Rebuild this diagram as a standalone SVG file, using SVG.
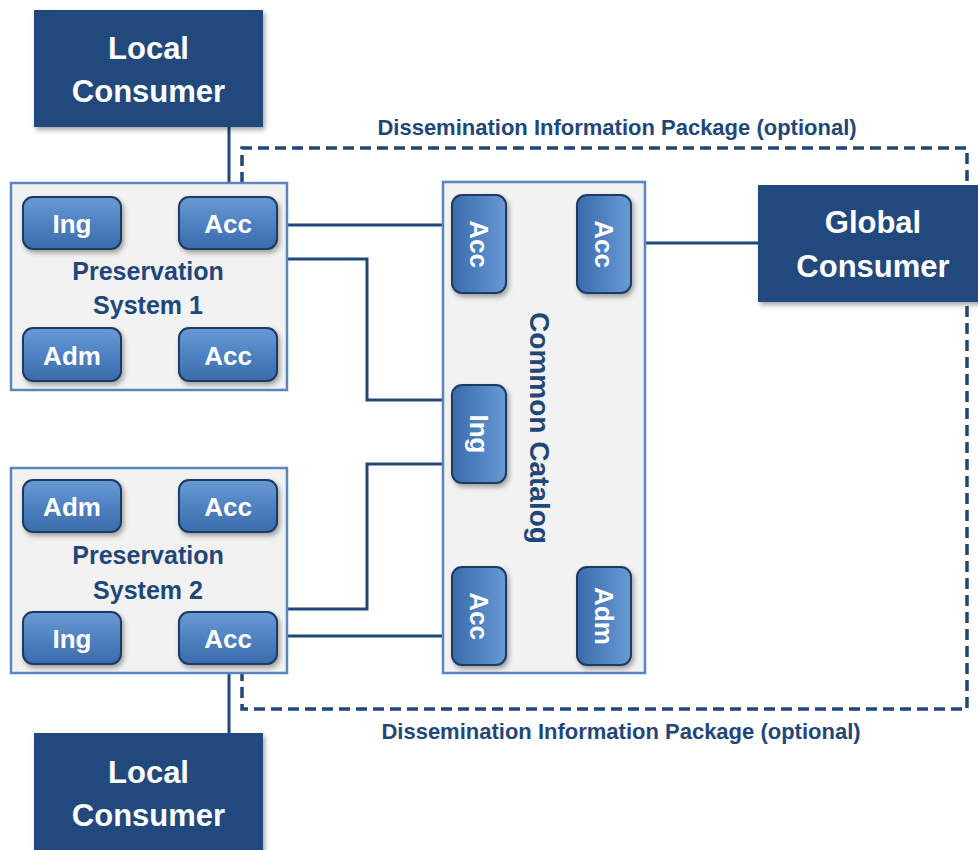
<svg xmlns="http://www.w3.org/2000/svg" width="978" height="850" viewBox="0 0 978 850">
<defs>
  <linearGradient id="btn" x1="0" y1="0" x2="0" y2="1">
    <stop offset="0" stop-color="#6a9ad6"/>
    <stop offset="0.5" stop-color="#4f82c2"/>
    <stop offset="1" stop-color="#3b6bab"/>
  </linearGradient>
  <linearGradient id="btnv" x1="0" y1="0" x2="1" y2="0">
    <stop offset="0" stop-color="#3b6bab"/>
    <stop offset="0.5" stop-color="#4f82c2"/>
    <stop offset="1" stop-color="#6a9ad6"/>
  </linearGradient>
  <filter id="sh" x="-20%" y="-20%" width="150%" height="150%">
    <feDropShadow dx="2" dy="3" stdDeviation="2.5" flood-color="#000" flood-opacity="0.35"/>
  </filter>
</defs>
<style>
  .dark { fill: #214a7d; filter: url(#sh); }
  .panel { fill: #f2f2f2; stroke: #5a86c0; stroke-width: 2.5; }
  .btn { fill: url(#btn); stroke: #1d3a60; stroke-width: 2; filter: url(#sh); }
  .btnv { fill: url(#btnv); stroke: #1d3a60; stroke-width: 2; filter: url(#sh); }
  .wt { font-family: "Liberation Sans", Arial, sans-serif; font-weight: bold; fill: #ffffff; text-anchor: middle; }
  .big { font-size: 31px; }
  .bt { font-size: 26px; }
  .bl { font-family: "Liberation Sans", Arial, sans-serif; font-weight: bold; fill: #1f477a; text-anchor: middle; }
  .line { fill: none; stroke: #1f477a; stroke-width: 3; }
  .dash { fill: none; stroke: #1f477a; stroke-width: 3.5; stroke-dasharray: 11 6; }
</style>

<g id="connectors">
  <path class="dash" d="M242,183 V148 H967 V709 H242 V673"/>
  <line class="line" x1="229" y1="127" x2="229" y2="183"/>
  <line class="line" x1="229" y1="673" x2="229" y2="733"/>
  <line class="line" x1="287" y1="225" x2="443" y2="225"/>
  <path class="line" d="M287,259 H367 V400 H443"/>
  <path class="line" d="M287,609 H367 V464 H443"/>
  <line class="line" x1="287" y1="636" x2="443" y2="636"/>
  <line class="line" x1="645" y1="243" x2="758" y2="243"/>
</g>

<g id="label-top">
  <text class="bl" x="617" y="135" font-size="22">Dissemination Information Package (optional)</text>
</g>
<g id="label-bottom">
  <text class="bl" x="621" y="739" font-size="22">Dissemination Information Package (optional)</text>
</g>

<g id="local-consumer-top">
  <rect class="dark" x="34" y="10" width="229" height="117"/>
  <text class="wt big" x="148.5" y="59">Local</text>
  <text class="wt big" x="148.5" y="102">Consumer</text>
</g>

<g id="local-consumer-bottom">
  <rect class="dark" x="34" y="733" width="229" height="125"/>
  <text class="wt big" x="148.5" y="783">Local</text>
  <text class="wt big" x="148.5" y="826">Consumer</text>
</g>

<g id="global-consumer">
  <rect class="dark" x="758" y="185" width="225" height="117"/>
  <text class="wt big" x="873" y="233">Global</text>
  <text class="wt big" x="873" y="277">Consumer</text>
</g>

<g id="preservation-system-1">
  <rect class="panel" x="11" y="183" width="276" height="207"/>
  <text class="bl" x="148" y="280" font-size="25">Preservation</text>
  <text class="bl" x="148" y="314" font-size="25">System 1</text>
  <g id="ps1-ing"><rect class="btn" x="23" y="197" width="98" height="52" rx="10"/><text class="wt bt" x="72" y="233">Ing</text></g>
  <g id="ps1-acc1"><rect class="btn" x="179" y="197" width="98" height="52" rx="10"/><text class="wt bt" x="228" y="233">Acc</text></g>
  <g id="ps1-adm"><rect class="btn" x="23" y="328" width="98" height="53" rx="10"/><text class="wt bt" x="72" y="365">Adm</text></g>
  <g id="ps1-acc2"><rect class="btn" x="179" y="328" width="98" height="53" rx="10"/><text class="wt bt" x="228" y="365">Acc</text></g>
</g>

<g id="preservation-system-2">
  <rect class="panel" x="11" y="468" width="276" height="205"/>
  <text class="bl" x="148" y="564" font-size="25">Preservation</text>
  <text class="bl" x="148" y="599" font-size="25">System 2</text>
  <g id="ps2-adm"><rect class="btn" x="23" y="480" width="98" height="52" rx="10"/><text class="wt bt" x="72" y="516">Adm</text></g>
  <g id="ps2-acc1"><rect class="btn" x="179" y="480" width="98" height="52" rx="10"/><text class="wt bt" x="228" y="516">Acc</text></g>
  <g id="ps2-ing"><rect class="btn" x="23" y="612" width="98" height="52" rx="10"/><text class="wt bt" x="72" y="648">Ing</text></g>
  <g id="ps2-acc2"><rect class="btn" x="179" y="612" width="98" height="52" rx="10"/><text class="wt bt" x="228" y="648">Acc</text></g>
</g>

<g id="common-catalog">
  <rect class="panel" x="443" y="182" width="202" height="491"/>
  <text class="bl" font-size="28" transform="translate(540,428) rotate(90)" y="10">Common Catalog</text>
  <g id="cc-acc1"><rect class="btnv" x="452" y="195" width="54" height="98" rx="10"/><text class="wt bt" transform="translate(479,244) rotate(90)" y="9">Acc</text></g>
  <g id="cc-acc2"><rect class="btnv" x="577" y="195" width="54" height="98" rx="10"/><text class="wt bt" transform="translate(604,244) rotate(90)" y="9">Acc</text></g>
  <g id="cc-ing"><rect class="btnv" x="452" y="385" width="54" height="98" rx="10"/><text class="wt bt" transform="translate(479,434) rotate(90)" y="9">Ing</text></g>
  <g id="cc-acc3"><rect class="btnv" x="452" y="567" width="54" height="98" rx="10"/><text class="wt bt" transform="translate(479,616) rotate(90)" y="9">Acc</text></g>
  <g id="cc-adm"><rect class="btnv" x="577" y="567" width="54" height="98" rx="10"/><text class="wt bt" transform="translate(604,616) rotate(90)" y="9">Adm</text></g>
</g>
</svg>
